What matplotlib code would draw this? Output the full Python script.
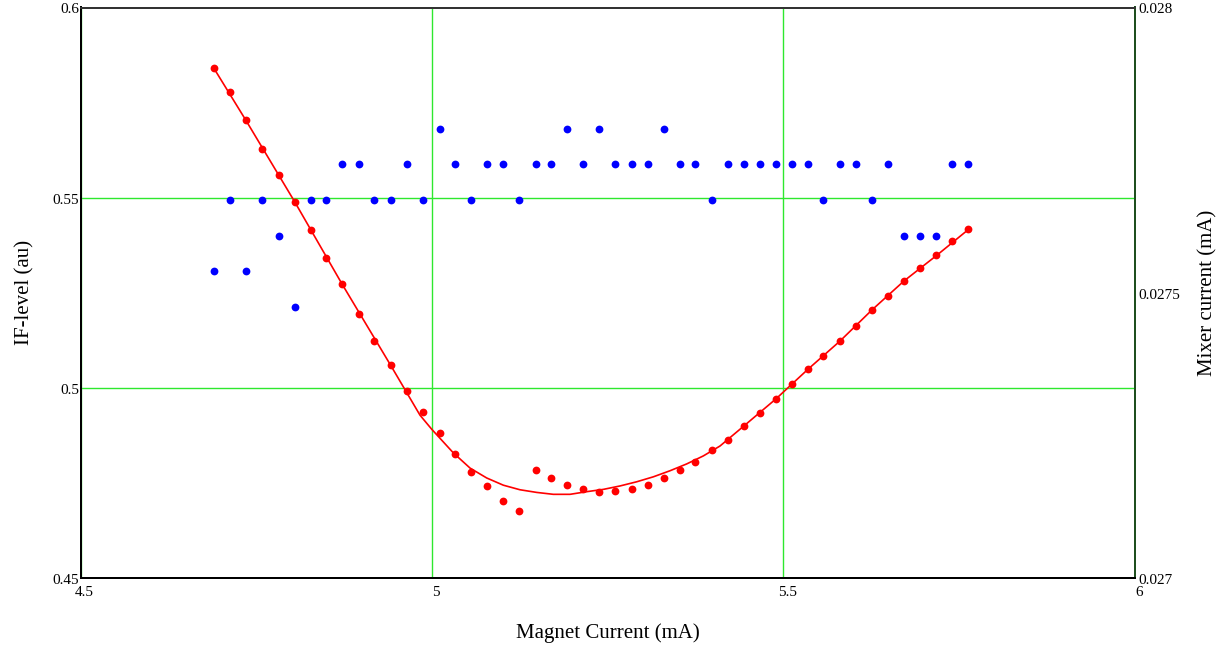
import matplotlib
matplotlib.use("Agg")
import matplotlib.pyplot as plt
from matplotlib.transforms import ScaledTranslation

plt.rcParams['font.family'] = ['Liberation Serif', 'DejaVu Serif']

# Magnet sweep (mA)
magnet_current = [4.6893, 4.7121, 4.7349, 4.7581, 4.7827, 4.8046, 4.8274, 4.8492,
                  4.8719, 4.8957, 4.9170, 4.9409, 4.9637, 4.9872, 5.0114, 5.0320,
                  5.0548, 5.0776, 5.1017, 5.1242, 5.1480, 5.1693, 5.1921, 5.2153,
                  5.2372, 5.2604, 5.2842, 5.3070, 5.3302, 5.3529, 5.3743, 5.3980,
                  5.4208, 5.4440, 5.4668, 5.4895, 5.5123, 5.5347, 5.5569, 5.5806,
                  5.6027, 5.6266, 5.6494, 5.6717, 5.6945, 5.7177, 5.7397, 5.7628]

# IF output level (au)
if_level = [0.5841, 0.5778, 0.5704, 0.5628, 0.5559, 0.5489, 0.5416, 0.5342,
            0.5273, 0.5193, 0.5123, 0.5061, 0.4992, 0.4936, 0.4880, 0.4825,
            0.4780, 0.4742, 0.4703, 0.4675, 0.4784, 0.4762, 0.4744, 0.4735,
            0.4727, 0.4728, 0.4735, 0.4744, 0.4763, 0.4784, 0.4804, 0.4836,
            0.4864, 0.4899, 0.4933, 0.4971, 0.5009, 0.5049, 0.5085, 0.5124,
            0.5163, 0.5204, 0.5242, 0.5281, 0.5316, 0.5349, 0.5385, 0.5417]

# Mixer current (mA)
mixer_current = [0.0275375, 0.0276625, 0.0275375, 0.0276625, 0.0276000, 0.0274750,
                 0.0276625, 0.0276625, 0.0277250, 0.0277250, 0.0276625, 0.0276625,
                 0.0277250, 0.0276625, 0.0277875, 0.0277250, 0.0276625, 0.0277250,
                 0.0277250, 0.0276625, 0.0277250, 0.0277250, 0.0277875, 0.0277250,
                 0.0277875, 0.0277250, 0.0277250, 0.0277250, 0.0277875, 0.0277250,
                 0.0277250, 0.0276625, 0.0277250, 0.0277250, 0.0277250, 0.0277250,
                 0.0277250, 0.0277250, 0.0276625, 0.0277250, 0.0277250, 0.0276625,
                 0.0277250, 0.0276000, 0.0276000, 0.0276000, 0.0277250, 0.0277250]

# Smoothed IF-level trend
fit_current = [4.6893, 4.7349, 4.8046, 4.8719, 4.9409, 4.9829, 4.9996, 5.0303,
               5.0541, 5.0778, 5.1015, 5.1252, 5.1490, 5.1726, 5.1964, 5.2202,
               5.2438, 5.2675, 5.2913, 5.3149, 5.3387, 5.3625, 5.3861, 5.4098,
               5.4440, 5.4895, 5.5351, 5.5806, 5.6262, 5.6717, 5.7187, 5.7638]
fit_level = [0.5841, 0.5704, 0.5489, 0.5273, 0.5060, 0.4928, 0.4891, 0.4829,
             0.4789, 0.4763, 0.4744, 0.4732, 0.4725, 0.4720, 0.4720, 0.4727,
             0.4733, 0.4742, 0.4753, 0.4766, 0.4782, 0.4800, 0.4821, 0.4847,
             0.4900, 0.4971, 0.5049, 0.5123, 0.5205, 0.5281, 0.5349, 0.5417]

x_ticks = [4.5, 5, 5.5, 6]
x_tick_labels = ['4.5', '5', '5.5', '6']
left_ticks = [0.45, 0.5, 0.55, 0.6]
left_tick_labels = ['0.45', '0.5', '0.55', '0.6']
right_ticks = [0.027, 0.0275, 0.028]
right_tick_labels = ['0.027', '0.0275', '0.028']

W, H, DPI = 1231, 654, 100
fig = plt.figure(figsize=(W / DPI, H / DPI), dpi=DPI)
x0, x1, y0, y1 = 80.7, 1134.7, 7.5, 578.0
ax = fig.add_axes([x0 / W, 1 - y1 / H, (x1 - x0) / W, (y1 - y0) / H])
ax2 = ax.twinx()

grid_green = '#2ee82e'
ax.set_xlim(4.5, 6)
ax.set_ylim(0.45, 0.6)
ax2.set_ylim(0.027, 0.028)

ax.set_xticks(x_ticks)
ax.set_xticklabels(x_tick_labels)
ax.set_yticks(left_ticks)
ax.set_yticklabels(left_tick_labels)
ax2.set_yticks(right_ticks)
ax2.set_yticklabels(right_tick_labels)

ax.grid(True, color=grid_green, linewidth=1.0)
ax.set_axisbelow(True)

tick_size = 11
ax.tick_params(axis='x', length=0, pad=6, labelsize=tick_size)
ax.tick_params(axis='y', length=0, pad=1, labelsize=tick_size)
ax2.tick_params(axis='y', length=0, pad=2.5, labelsize=tick_size)

# nudge tick labels the way the plotting package places them
for lab in ax.get_xticklabels():
    lab.set_transform(lab.get_transform() + ScaledTranslation(4 / DPI, 0, fig.dpi_scale_trans))
for lab in ax.get_yticklabels() + ax2.get_yticklabels():
    lab.set_transform(lab.get_transform() + ScaledTranslation(0, -1 / DPI, fig.dpi_scale_trans))

for a in (ax, ax2):
    a.spines['left'].set_color('black')
    a.spines['bottom'].set_color('black')
    a.spines['top'].set_color('#333333')
    a.spines['right'].set_color('#1f4f1f')
    for s in a.spines.values():
        s.set_linewidth(1.4)

ax.plot(fit_current, fit_level, color='#ff0000', linewidth=1.2, zorder=3)
ax.plot(magnet_current, if_level, linestyle='none', marker='o', markersize=5.6,
        color='#ff0000', markeredgewidth=0, zorder=4)
ax2.plot(magnet_current, mixer_current, linestyle='none', marker='o', markersize=5.6,
         color='#0000ff', markeredgewidth=0, zorder=4)

label_size = 15
ax.set_xlabel('Magnet Current (mA)', fontsize=label_size, labelpad=17)
ax.set_ylabel('IF-level (au)', fontsize=label_size, labelpad=13)
ax2.set_ylabel('Mixer current (mA)', fontsize=label_size, labelpad=13)

fig.savefig('out.png', dpi=DPI)
